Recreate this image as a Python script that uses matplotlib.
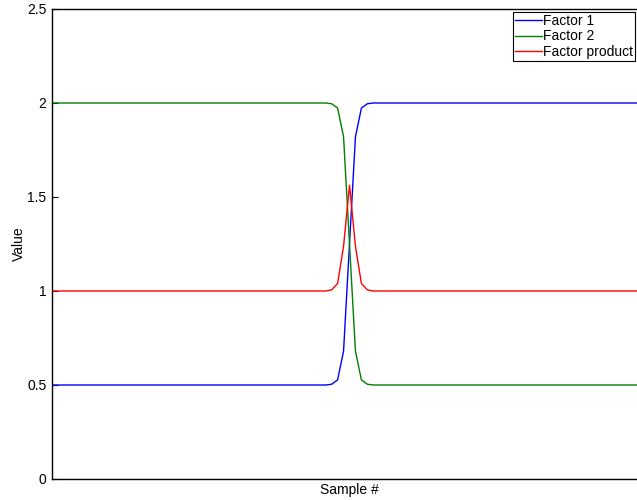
import matplotlib
matplotlib.use("Agg")
import matplotlib.pyplot as plt
import numpy as np

plt.rcParams["font.family"] = ["Liberation Sans", "DejaVu Sans"]

# samples 0..100, transition around sample 50
samples = np.arange(101)
factor1 = [0.5] * 47 + [0.504, 0.527, 0.68, 1.25, 1.82, 1.973, 1.996] + [2.0] * 47
factor2 = [2.0] * 47 + [1.996, 1.973, 1.82, 1.25, 0.68, 0.527, 0.504] + [0.5] * 47
product = [1.0] * 47 + [1.006, 1.040, 1.238, 1.5625, 1.238, 1.040, 1.006] + [1.0] * 47

yticks = [0, 0.5, 1, 1.5, 2, 2.5]
ytick_labels = ["0", "0.5", "1", "1.5", "2", "2.5"]

fig = plt.figure(figsize=(6.37, 5.0), dpi=100)
# right edge of the axes runs past the image, as in the reference
ax = fig.add_axes([52 / 637, 21 / 500, 595 / 637, 470 / 500])

ax.plot(samples, factor1, color="#0000ff", lw=1.0, label="Factor 1")
ax.plot(samples, factor2, color="#008000", lw=1.0, label="Factor 2")
ax.plot(samples, product, color="#ff0000", lw=1.0, label="Factor product")

ax.set_xlim(0, 100)
ax.set_ylim(0, 2.5)
ax.set_xticks([])
ax.set_yticks(yticks)
ax.set_yticklabels(ytick_labels)
ax.tick_params(axis="y", direction="in", length=4, labelsize=10, pad=4)
for s in ax.spines.values():
    s.set_linewidth(1.0)
    s.set_color("#000")

ax.set_xlabel("Sample #", fontsize=10, labelpad=3)
ax.set_ylabel("Value", fontsize=10, labelpad=1)

leg = ax.legend(loc="upper right", bbox_to_anchor=(635 / 637, 1 - 12 / 500),
                bbox_transform=fig.transFigure, borderaxespad=0,
                fontsize=10, fancybox=False, framealpha=1, edgecolor="#000",
                handlelength=1.9, handletextpad=0.1, labelspacing=0.1,
                borderpad=0.15)
leg.get_frame().set_linewidth(0.8)

fig.savefig("out.png", dpi=100)
